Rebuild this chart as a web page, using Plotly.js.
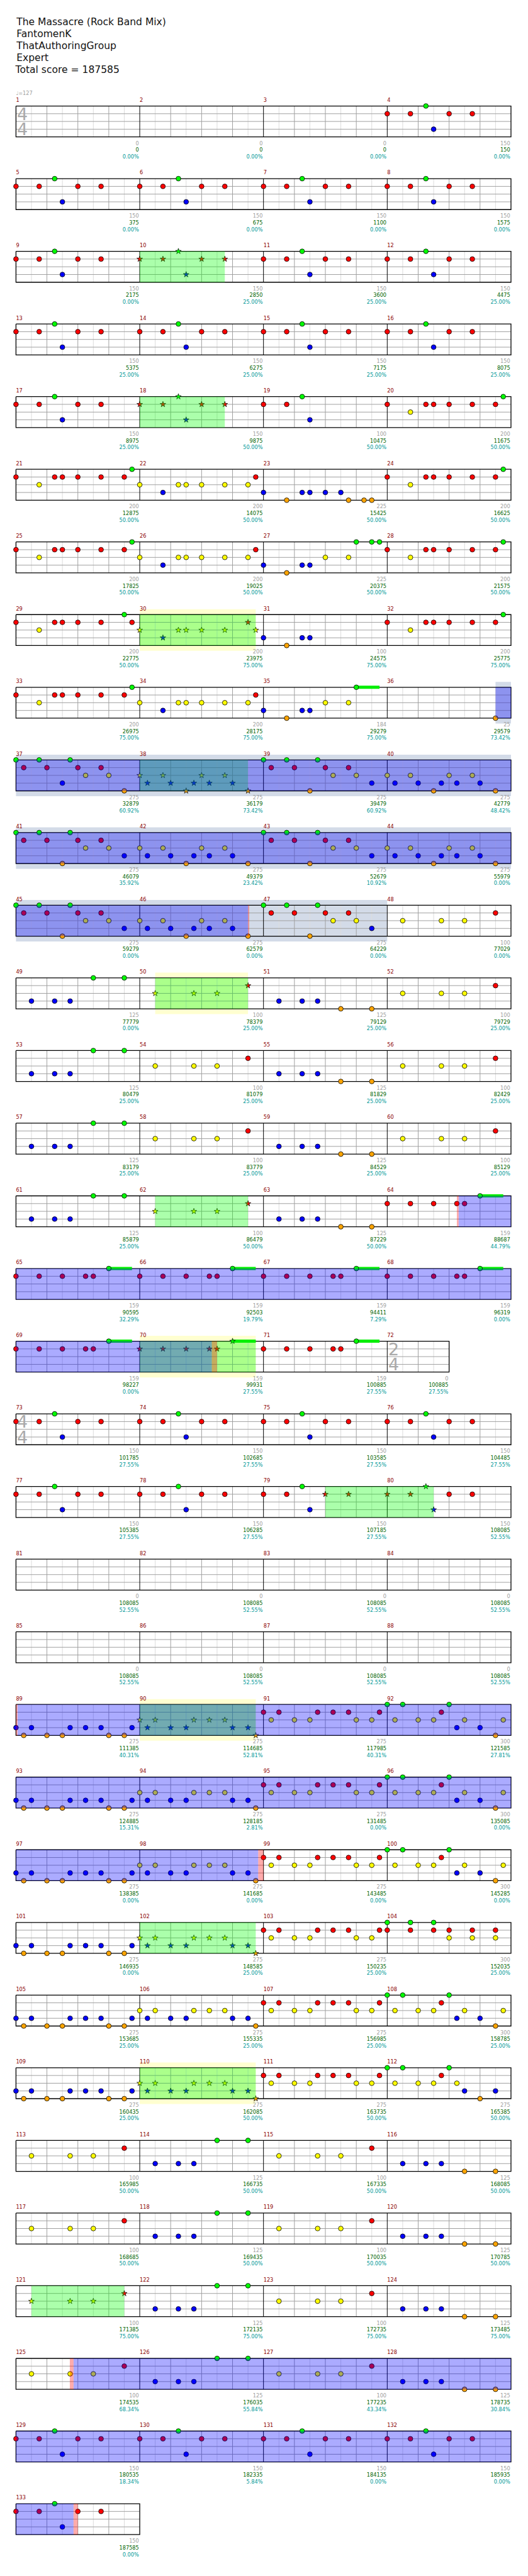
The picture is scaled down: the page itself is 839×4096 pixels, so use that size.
<!DOCTYPE html>
<html>
<head>
<meta charset="utf-8">
<script src="https://cdn.plot.ly/plotly-3.0.1.min.js"></script>
<style>
html,body{margin:0;padding:0;background:#ffffff;overflow:hidden;}
#chart{width:839px;height:4096px;}
</style>
</head>
<body>
<div id="chart"></div>
<script>
// ================= DATA =================
const headerLines = ["The Massacre (Rock Band Mix)", "FantomenK", "ThatAuthoringGroup", "Expert", "Total score = 187585"];
const tempoMeasures = [1];
const tempoLabels = ["\u2669=127"];
const timeSigMeasures = [1, 72, 73];
const timeSigNum = [4, 2, 4];
const timeSigDen = [4, 4, 4];
const totalMeasures = 133;

// note patterns: lane letter + beat within measure
const patP1   = "R0 R0.75 G1.25 B1.5 R2 R2.75";
const patP1h  = "R0 R0.75 G1.25 B1.5";
const patA    = "R0 Y0.75 R1.25 R1.5 R2 R2.75 R3.5 G3.75";
const patB    = "Y0 B0.75 Y1.25 Y1.5 Y2 Y2.75 Y3.5 R3.75";
const patC23  = "B0 O0.75 B1.25 B1.5 B2 B2.5 O2.75 O3.25 O3.5";
const patC27  = "B0 O0.75 B1.25 B1.5 Y2 Y2.75 G3 G3.5 G3.75";
const patC29  = "R0 Y0.75 R1.25 R1.5 R2 R2.75 G3.5 R3.75";
const patC30  = "Y0 B0.75 Y1.25 Y1.5 Y2 Y2.75 R3.5 Y3.75";
const patC31  = "B0 O0.75 B1.25 B1.5";
const patC35  = "B0 O0.75 B1.25 B1.5 Y2 Y2.75 G3";
const patC36  = "O3.5";
const patE1   = "G0 R0.25 G0.75 R1 B1.5 G1.75 R2 Y2.25 R2.75 Y3 O3.5";
const patE2   = "Y0 B0.25 Y0.75 B1 O1.5 B1.75 Y2 B2.25 Y2.75 B3 O3.5";
const patE3   = "G0 R0.25 G0.75 R1 O1.5 G1.75 R2 Y2.25 R2.75 Y3 B3.5";
const patF48  = "Y0.5 Y1.75 Y2.5 R3.5";
const patF49  = "B0.5 B1.25 B1.75 G2.5 G3.5";
const patF51  = "B0.5 B1.25 B1.75 O2.5 O3.5";
const patG64  = "R0 R0.75 R1.5 R2.25 R2.5 G3";
const patH89  = "B0 O0.25 B0.5 O1 O1.5 B1.75 B2.25 B2.75 O3 O3.5 B3.75";
const patH90  = "Y0 B0.25 Y0.5 B1 B1.5 Y1.75 Y2.25 Y2.75 B3 B3.5 O3.75";
const patH91  = "R0 Y0.25 R0.5 Y1 Y1.5 R1.75 R2.25 R2.75 Y3 Y3.5 R3.75";
const patH92  = "G0 Y0.25 G0.5 Y1 Y1.5 R1.75 G2 B2.25 Y2.5 B3 O3.5 Y3.75";
const patH104 = "G0 R0 G0.75 R0.75 G1.5 R1.5 R2 Y2 R2.75 Y2.75 R3.5 Y3.5";
const patH112 = "G0 Y0.25 G0.5 Y1 Y1.5 R1.75 G2 Y2.25 B2.5 O3 B3.5";

const measurePatterns = [
 "-","-","-","P1","P1","P1","P1","P1","P1","P1","P1","P1","P1","P1","P1","P1","P1","P1",
 "P1h","A","A","B","C23","A","A","B","C27","A","C29","C30","C31","A","A","B","C35","C36",
 "E1","E2","E3","E2","E3","E2","E3","E2","E3","E2","E3",
 "F48","F49","F48","F51","F48","F49","F48","F51","F48","F49","F48","F51","F48","F49","F48","F51",
 "G64","G64","G64","G64","G64","G64","G64","G64",
 "-",
 "P1","P1","P1","P1","P1","P1","P1","P1",
 "-","-","-","-","-","-","-","-",
 "H89","H90","H91","H92","H89","H90","H91","H92","H89","H90","H91","H92",
 "H89","H90","H91","H104","H89","H90","H91","H92","H89","H90","H91","H112",
 "F48","F49","F48","F51","F48","F49","F48","F51","F48","F49","F48","F51","F48","F49","F48","F51",
 "P1","P1","P1","P1","P1"
];

// green sustain bars on cymbal notes: [measure, beat, length]
const barMeasures = [35, 64, 65, 66, 67, 68, 69, 70, 71];
const barBeats    = [3, 3, 3, 3, 3, 3, 3, 3, 3];
const barLengths  = [0.75, 0.75, 0.75, 0.75, 0.75, 0.75, 0.75, 0.75, 0.75];

// ranges: [startMeasure, startBeat, endMeasure, endBeat]
const spPhrases = [[10,0,10,2.75],[18,0,18,2.75],[30,0,30,3.75],[38,0,38,3.5],[50,0.5,50,3.5],[62,0.5,62,3.5],
                   [70,0,70,3.75],[79,2,80,1.5],[90,0,90,3.75],[102,0,102,3.75],[110,0,110,3.75],[121,0.5,121,3.5]];
const unisonPhrases = [[30,0,30,3.75],[50,0.5,50,3.5],[70,0,70,3.75],[90,0,90,3.75],[110,0,110,3.75]];
const activations = [[36,3.5,46,3.5],[64,2.31,70,2.33],[89,0.05,98,3.83],[125,1.86,133,1.86]];
const leeway = [[46,3.5,46,3.54],[64,2.25,64,2.31],[70,2.33,70,2.5],[89,0,89,0.05],[98,3.83,98,4],[125,1.74,125,1.86],[133,1.86,133,2]];
const soloSections = [[36,3.5,48,0]];

const measureScores = [0,0,0,150,150,150,150,150,150,150,
 150,150,150,150,150,150,150,150,100,200,
 200,200,225,200,200,200,225,200,200,200,
 100,200,200,200,184,25,275,275,275,275,
 275,275,275,275,275,275,275,100,125,100,
 125,100,125,100,125,100,125,100,125,100,
 125,100,125,159,159,159,159,159,159,159,
 159,0,150,150,150,150,150,150,150,150,
 0,0,0,0,0,0,0,0,275,275,
 275,300,275,275,275,300,275,275,275,300,
 275,275,275,300,275,275,275,300,275,275,
 275,275,100,125,100,125,100,125,100,125,
 100,125,100,125,100,125,100,125,150,150,
 150,150,150];
const totalScores = [0,0,0,150,375,675,1100,1575,2175,2850,
 3600,4475,5375,6275,7175,8075,8975,9875,10475,11675,
 12875,14075,15425,16625,17825,19025,20375,21575,22775,23975,
 24575,25775,26975,28175,29279,29579,32879,36179,39479,42779,
 46079,49379,52679,55979,59279,62579,64229,77029,77779,78379,
 79129,79729,80479,81079,81829,82429,83179,83779,84529,85129,
 85879,86479,87229,88687,90595,92503,94411,96319,98227,99931,
 100885,100885,101785,102685,103585,104485,105385,106285,107185,108085,
 108085,108085,108085,108085,108085,108085,108085,108085,111385,114685,
 117985,121585,124885,128185,131485,135085,138385,141685,143485,145285,
 146935,148585,150235,152035,153685,155335,156985,158785,160435,162085,
 163735,165385,165985,166735,167335,168085,168685,169435,170035,170785,
 171385,172135,172735,173485,174535,176035,177235,178735,180535,182335,
 184135,185935,187585];
const spMeter = [0,0,0,0,0,0,0,0,0,25,
 25,25,25,25,25,25,25,50,50,50,
 50,50,50,50,50,50,50,50,50,75,
 75,75,75,75,75,73.42,60.92,73.42,60.92,48.42,
 35.92,23.42,10.92,0,0,0,0,0,0,25,
 25,25,25,25,25,25,25,25,25,25,
 25,50,50,44.79,32.29,19.79,7.29,0,0,27.55,
 27.55,27.55,27.55,27.55,27.55,27.55,27.55,27.55,27.55,52.55,
 52.55,52.55,52.55,52.55,52.55,52.55,52.55,52.55,40.31,52.81,
 40.31,27.81,15.31,2.81,0,0,0,0,0,0,
 0,25,25,25,25,25,25,25,25,50,
 50,50,50,50,50,50,50,50,50,50,
 75,75,75,75,68.34,55.84,43.34,30.84,18.34,5.84,
 0,0,0];

// ================= BUILD =================
const patterns = {P1:patP1,P1h:patP1h,A:patA,B:patB,C23:patC23,C27:patC27,C29:patC29,C30:patC30,C31:patC31,
  C35:patC35,C36:patC36,E1:patE1,E2:patE2,E3:patE3,F48:patF48,F49:patF49,F51:patF51,G64:patG64,
  H89:patH89,H90:patH90,H91:patH91,H92:patH92,H104:patH104,H112:patH112};
const laneOf = {G:0,R:1,Y:2,B:3,O:4};
const laneColors = ["#00ff00","#ff0000","#ffff00","#0000ff","#ffa500"];
const FONT = "DejaVu Sans";
const K = 839/1024;
const PX = 1/15;              // one reference pixel in lane units
const ROW = 141*PX;           // row pitch
const TOP0 = 205.7;           // reference y of the first staff top

const mLen = [], mStart = [], mRow = [];
let curNum = 4;
for (let m = 1; m <= totalMeasures; m++) {
  const ti = timeSigMeasures.indexOf(m);
  if (ti >= 0) curNum = timeSigNum[ti];
  mLen[m] = curNum;
  mRow[m] = Math.floor((m-1)/4);
  mStart[m] = ((m-1)%4 === 0) ? 0 : mStart[m-1] + mLen[m-1];
}
const nRows = mRow[totalMeasures] + 1;
const rowEnd = [];
for (let m = 1; m <= totalMeasures; m++) rowEnd[mRow[m]] = mStart[m] + mLen[m];
const X = (m,b) => mStart[m] + b;
const Yt = (m) => mRow[m]*ROW;

const traces = [];
function seg(o,x0,y0,x1,y1){o.x.push(x0,x1,null);o.y.push(y0,y1,null);}
function lineTrace(o,color,width){traces.push({type:'scatter',mode:'lines',x:o.x,y:o.y,line:{color:color,width:width},hoverinfo:'skip',showlegend:false});}

// grid
const light={x:[],y:[]}, gray={x:[],y:[]}, black={x:[],y:[]}, border={x:[],y:[]};
for (let m = 1; m <= totalMeasures; m++) {
  const y0 = Yt(m), y1 = Yt(m)+4;
  for (let k = 0; k < mLen[m]; k++) {
    seg(light, X(m,k+0.5), y0, X(m,k+0.5), y1);
    if (k > 0) seg(gray, X(m,k), y0, X(m,k), y1);
  }
  if ((m-1)%4 !== 0) seg(black, X(m,0), y0, X(m,0), y1);
}
for (let r = 0; r < nRows; r++) {
  const y0 = r*ROW;
  for (let l = 1; l <= 3; l++) seg(gray, 0, y0+l, rowEnd[r], y0+l);
  border.x.push(0, rowEnd[r], rowEnd[r], 0, 0, null);
  border.y.push(y0, y0, y0+4, y0+4, y0, null);
}
lineTrace(light, '#dcdcdc', 1);
lineTrace(gray, '#a0a0a0', 1);
lineTrace(black, '#000000', 1);
lineTrace(border, '#000000', 1.3);

// sustain bars
const bars = {x:[],y:[]};
for (let i = 0; i < barMeasures.length; i++) {
  const m = barMeasures[i];
  seg(bars, X(m,barBeats[i]), Yt(m), X(m,barBeats[i]+barLengths[i]), Yt(m));
}
lineTrace(bars, '#00ee00', 5);

// notes
function inRange(m,b,r){
  const a = m*100+b, s = r[0]*100+r[1], e = r[2]*100+r[3];
  return a >= s-1e-6 && a <= e+1e-6;
}
const circ = [0,1,2,3,4].map(()=>({x:[],y:[]}));
const star = [0,1,2,3,4].map(()=>({x:[],y:[]}));
for (let m = 1; m <= totalMeasures; m++) {
  const p = patterns[measurePatterns[m-1]];
  if (!p) continue;
  p.split(' ').forEach(tok => {
    const lane = laneOf[tok[0]], b = parseFloat(tok.slice(1));
    const isStar = spPhrases.some(r => inRange(m,b,r));
    const tgt = isStar ? star[lane] : circ[lane];
    tgt.x.push(X(m,b)); tgt.y.push(Yt(m)+lane);
  });
}
for (let l = 0; l < 5; l++) {
  traces.push({type:'scatter',mode:'markers',x:circ[l].x,y:circ[l].y,hoverinfo:'skip',
    marker:{symbol:'circle',size:7.6,color:laneColors[l],line:{color:'#000',width:0.8}}});
  traces.push({type:'scatter',mode:'markers',x:star[l].x,y:star[l].y,hoverinfo:'skip',
    marker:{symbol:'star',size:6.8,color:laneColors[l],line:{color:'#000',width:0.7}}});
}

// texts
function textTrace(xs,ys,texts,pos,color,size,weight){
  traces.push({type:'scatter',mode:'text',x:xs,y:ys,text:texts,textposition:pos,cliponaxis:false,hoverinfo:'skip',
    textfont:{family:FONT,size:size,color:color,weight:weight||'normal'}});
}
const fs = 10*K;
const mx=[],my=[],mt=[], lx=[],gy=[],gt=[],ty=[],tt=[],py=[],pt=[];
for (let m = 1; m <= totalMeasures; m++) {
  mx.push(X(m,0)); my.push(Yt(m)-10.55*PX); mt.push(String(m));
  const xe = X(m,mLen[m]) - 1.5/60;
  lx.push(xe);
  gy.push(Yt(m)+73.45*PX); gt.push(String(measureScores[m-1]));
  ty.push(Yt(m)+86.45*PX); tt.push(String(totalScores[m-1]));
  py.push(Yt(m)+99.45*PX); pt.push(spMeter[m-1].toFixed(2)+'%');
}
textTrace(mx,my,mt,'middle right','#8b0000',fs);
textTrace(lx,gy,gt,'middle left','#a0a0a0',fs);
textTrace(lx,ty,tt,'middle left','#006400',fs);
textTrace(lx,py,pt,'middle left','#009898',fs);

// tempo
textTrace(tempoMeasures.map(m=>X(m,0)), tempoMeasures.map(m=>Yt(m)-23.55*PX), tempoLabels,
  'middle right','#a0a0a0',fs);

// time signatures
const tsx=[],tsy=[],tst=[];
for (let i = 0; i < timeSigMeasures.length; i++) {
  const m = timeSigMeasures[i];
  tsx.push(X(m,0.21), X(m,0.21));
  tsy.push(Yt(m)+1+0.253, Yt(m)+3+0.253);
  tst.push(String(timeSigNum[i]), String(timeSigDen[i]));
}
textTrace(tsx,tsy,tst,'middle center','#aaaaaa',33*K);

// header
const hx=[],hy=[];
headerLines.forEach((t,i)=>{ hx.push(i===4 ? -1/60 : 1/60); hy.push((44.5+23*i-TOP0)*PX); });
textTrace(hx,hy,headerLines,'middle right','#111111',19*K);

// regions
const shapes = [];
function addRange(r, color, ext, layer){
  const rows = {};
  for (let m = r[0]; m <= r[2]; m++) {
    const s = (m===r[0]) ? r[1] : 0;
    const e = (m===r[2]) ? r[3] : mLen[m];
    if (e <= s) continue;
    const row = mRow[m];
    const xs = X(m,s), xe = X(m,e);
    if (rows[row]) { rows[row][0] = Math.min(rows[row][0], xs); rows[row][1] = Math.max(rows[row][1], xe); }
    else rows[row] = [xs, xe];
  }
  Object.keys(rows).forEach(k => {
    const y0 = k*ROW;
    shapes.push({type:'rect',xref:'x',yref:'y',x0:rows[k][0],x1:rows[k][1],
      y0: y0 - (ext?10.3*PX:0), y1: y0 + 4 + (ext?10.3*PX:0),
      fillcolor:color,line:{width:0},layer:layer});
  });
}
soloSections.forEach(r=>addRange(r,'rgb(211,219,232)',true,'below'));
unisonPhrases.forEach(r=>addRange(r,'rgb(255,255,208)',true,'below'));
spPhrases.forEach(r=>addRange(r,'rgba(0,255,0,0.33)',false,'above'));
activations.forEach(r=>addRange(r,'rgba(0,0,255,0.33)',false,'above'));
leeway.forEach(r=>addRange(r,'rgba(255,0,0,0.33)',false,'above'));

const layout = {
  width:839, height:4096, margin:{l:0,r:0,t:0,b:0,pad:0},
  paper_bgcolor:'#ffffff', plot_bgcolor:'#ffffff', showlegend:false,
  xaxis:{range:[-31/60, 993/60], visible:false, showgrid:false, zeroline:false, fixedrange:true},
  yaxis:{range:[(4999-TOP0)*PX, -TOP0*PX], visible:false, showgrid:false, zeroline:false, fixedrange:true},
  shapes:shapes
};
Plotly.newPlot('chart', traces, layout, {staticPlot:true, displayModeBar:false});
</script>
</body>
</html>
